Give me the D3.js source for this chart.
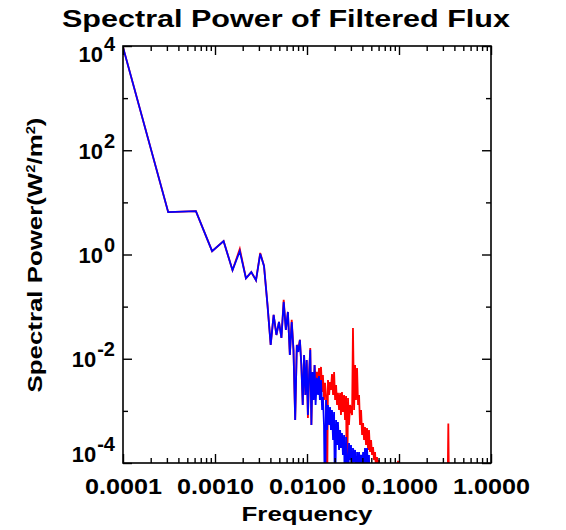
<!DOCTYPE html>
<html>
<head>
<meta charset="utf-8">
<script src="https://cdn.jsdelivr.net/npm/d3@7"></script>
<style>
  body { margin: 0; background: #fff; }
  text { font-family: "Liberation Sans", Arial, Helvetica, sans-serif; font-weight: bold; }
</style>
</head>
<body>
<svg id="chart" width="566" height="530"></svg>
<script>
// frequencies (shared by both spectra)
const freq = [
  0.0001, 0.00031, 0.00062, 0.00093, 0.00124, 0.00155, 0.00186, 0.00217, 0.00248, 0.00279,
  0.0031, 0.00341, 0.00372, 0.00403, 0.00434, 0.00465, 0.00496, 0.00527, 0.00558, 0.00589,
  0.0062, 0.00651, 0.00682, 0.00713, 0.00744, 0.00775, 0.00806, 0.00837, 0.00868, 0.00899,
  0.0093, 0.00961, 0.00992, 0.01023, 0.01054, 0.01085, 0.01116, 0.01147, 0.01178, 0.01209, 0.0124,
  0.0128, 0.0132, 0.0135, 0.0138, 0.0142, 0.0146, 0.0149, 0.0153, 0.0157, 0.0161,
  0.0165, 0.0169, 0.0174, 0.0178, 0.0182, 0.0187, 0.0192, 0.0197, 0.0202, 0.0207,
  0.0212, 0.0217, 0.0223, 0.0229, 0.0234, 0.0240, 0.0246, 0.0253, 0.0259, 0.0266,
  0.0272, 0.0279, 0.0286, 0.0294, 0.0301, 0.0309, 0.0316, 0.0325, 0.0333, 0.0341,
  0.0350, 0.0359, 0.0368, 0.0377, 0.0387, 0.0397, 0.0407, 0.0417, 0.0427, 0.0438,
  0.0449, 0.0461, 0.0472, 0.0484, 0.0497, 0.0509, 0.0522, 0.0535, 0.0549, 0.0563,
  0.0577, 0.0592, 0.0607, 0.0622,
  0.0800, 0.0960, 0.0976, 0.0990, 0.3350, 0.3436, 0.3520, 0.5000
];

// filtered spectrum (blue)
const bluePower = [
  9500, 6.5, 6.8, 1.16, 1.8, 0.50, 1.16, 0.35, 0.46, 0.32,
  1.03, 0.604, 0.108, 0.0184, 0.0693, 0.0286, 0.0508, 0.0251, 0.123, 0.0357,
  0.0791, 0.0118, 0.0508, 0.0148, 0.000668, 0.0184, 0.0135, 0.0230, 0.0076, 0.0013,
  0.0118, 0.00202, 0.00948, 0.000834, 0.00489, 0.0148, 0.000536, 0.00558, 0.00162, 0.0076, 0.0013,
  4.29e-3, 2.02e-3, 4.68e-3, 1.62e-3, 3.92e-3, 1.04e-3, 1.85e-3, 5.36e-4, 1e-5, 1.62e-3,
  4.30e-4, 1.30e-3, 5.36e-4, 1.19e-3, 4.30e-4, 1.04e-3, 2.76e-4, 9.53e-4, 1e-5, 6.68e-4,
  2.21e-4, 6.12e-4, 1.78e-4, 4.30e-4, 1.94e-4, 3.77e-4, 1.43e-4, 3.44e-4, 1e-5, 3.15e-4,
  1.43e-4, 1e-5, 2.42e-4, 1.14e-4, 2.21e-4, 1e-5, 1.94e-4, 1.05e-4, 1.78e-4, 1e-5,
  1.63e-4, 7.3e-5, 1.63e-4, 8e-5, 1.43e-4, 7.3e-5, 1.63e-4, 6.7e-5, 1.94e-4, 9e-5,
  1.94e-4, 7.3e-5, 1.43e-4, 1e-5, 1e-5, 1e-5, 1e-5, 1e-5, 1e-5, 1e-5,
  1e-5, 1e-5, 1e-5, 1e-5,
  1e-5, 1e-5, 1e-5, 1e-5, 1e-5, 1e-5, 1e-5, 1e-5
];

// unfiltered spectrum (red)
const redPower = [
  9500, 6.5, 6.8, 1.16, 1.8, 0.50, 1.28, 0.35, 0.46, 0.32,
  1.07, 0.604, 0.108, 0.0184, 0.0693, 0.0286, 0.0508, 0.0251, 0.135, 0.0357,
  0.0791, 0.0118, 0.0556, 0.0148, 0.000668, 0.0184, 0.0161, 0.0230, 0.0076, 0.0013,
  0.0118, 0.00202, 0.00948, 0.000731, 0.00489, 0.0161, 0.000536, 0.00558, 0.00162, 0.0076, 0.00392,
  5.58e-3, 3.14e-3, 6.65e-3, 3.92e-3, 6.97e-3, 2.31e-3, 4.89e-3, 1.62e-3, 3.44e-3, 2.02e-3,
  1e-5, 3.92e-3, 2.02e-3, 3.59e-3, 2.52e-3, 5.11e-3, 2.02e-3, 5.58e-3, 1.62e-3, 3.14e-3,
  1.30e-3, 2.21e-3, 1.04e-3, 2.21e-3, 8.34e-4, 2.31e-3, 9.53e-4, 2.02e-3, 6.68e-4, 1.93e-3,
  1e-5, 1.77e-3, 5.36e-4, 1.30e-3, 1.04e-3, 8.34e-4, 3.90e-2, 1.04e-3, 7.60e-3, 1.62e-3,
  6.65e-3, 1.30e-3, 2.02e-3, 5.36e-4, 1.04e-3, 3.44e-4, 5.86e-4, 2.76e-4, 4.91e-4, 2.21e-4,
  4.70e-4, 1.78e-4, 4.30e-4, 1.63e-4, 2.76e-4, 1.43e-4, 2.03e-4, 1.14e-4, 1.63e-4, 7.3e-5,
  1.30e-4, 7.3e-5, 1.14e-4, 1e-5,
  1e-5, 1e-5, 1.1e-4, 1e-5, 1e-5, 5.7e-4, 1e-5, 1e-5
];

const xTickValues = [1e-4, 1e-3, 1e-2, 1e-1, 1];
const xTickLabels = ['0.0001', '0.0010', '0.0100', '0.1000', '1.0000'];
const yTickValues = [1e-4, 1e-2, 1, 1e2, 1e4];
const yTickExps = ['-4', '-2', '0', '2', '4'];
const yMinorValues = [1e-3, 1e-1, 1e1, 1e3];

const W = 566, H = 530;
const margin = {top: 46, right: 75, bottom: 67, left: 123};
const width = W - margin.left - margin.right;
const height = H - margin.top - margin.bottom;

const svg = d3.select('#chart');
const g = svg.append('g').attr('transform', `translate(${margin.left},${margin.top})`);

const x = d3.scaleLog().domain([1e-4, 1]).range([0, width]);
const y = d3.scaleLog().domain([1e-4, 1e4]).range([height, 0]);

// minor x ticks 2..9 in each decade
const xMinorValues = [];
xTickValues.slice(0, -1).forEach(d => { for (let m = 2; m <= 9; m++) xMinorValues.push(m * d); });

g.append('clipPath').attr('id', 'clip')
  .append('rect').attr('width', width).attr('height', height);

const rows = freq.map((f, i) => ({f: f, b: bluePower[i], r: redPower[i]}));

const plot = g.append('g').attr('clip-path', 'url(#clip)');
const lineR = d3.line().x(d => x(d.f)).y(d => y(d.r));
const lineB = d3.line().x(d => x(d.f)).y(d => y(d.b));

plot.append('path').attr('d', lineR(rows))
  .attr('fill', 'none').attr('stroke', '#ff0000').attr('stroke-width', 1.8).attr('stroke-linejoin', 'miter');
plot.append('path').attr('d', lineB(rows))
  .attr('fill', 'none').attr('stroke', '#0000ff').attr('stroke-width', 1.8).attr('stroke-linejoin', 'miter');

// ticks on all four sides, pointing in
function ticks(axis, values, size, tr) {
  g.append('g').attr('transform', tr)
    .call(axis.tickValues(values).tickSize(-size).tickFormat(''))
    .call(s => s.select('.domain').remove())
    .call(s => s.selectAll('line').attr('stroke', '#000').attr('stroke-width', 1.4));
}
ticks(d3.axisBottom(x), xTickValues, 9, `translate(0,${height})`);
ticks(d3.axisBottom(x), xMinorValues, 5, `translate(0,${height})`);
ticks(d3.axisTop(x), xTickValues, 9, 'translate(0,0)');
ticks(d3.axisTop(x), xMinorValues, 5, 'translate(0,0)');
ticks(d3.axisLeft(y), yTickValues, 9, 'translate(0,0)');
ticks(d3.axisLeft(y), yMinorValues, 5, 'translate(0,0)');
ticks(d3.axisRight(y), yTickValues, 9, `translate(${width},0)`);
ticks(d3.axisRight(y), yMinorValues, 5, `translate(${width},0)`);

g.append('rect').attr('width', width).attr('height', height)
  .attr('fill', 'none').attr('stroke', '#000').attr('stroke-width', 1.6);

// x tick labels
const xl = g.append('g').attr('transform', `translate(0,${height})`)
  .call(d3.axisBottom(x).tickValues(xTickValues).tickSize(0).tickPadding(15)
    .tickFormat((d, i) => xTickLabels[i]))
  .call(s => s.select('.domain').remove());
xl.attr('font-size', null).attr('font-family', null);
xl.selectAll('text').attr('fill', '#000').style('font-size', '22px')
  .attr('textLength', 77).attr('lengthAdjust', 'spacingAndGlyphs');

// y tick labels as 10^n
const yl = g.append('g').selectAll('text').data(yTickValues).join('text')
  .attr('x', -8)
  .attr('y', d => Math.min(Math.max(y(d) + 8.5, 15.7), height - 1.3))
  .attr('text-anchor', 'end').style('font-size', '22px').attr('fill', '#000');
yl.append('tspan').text('10');
yl.append('tspan').attr('dy', -11).style('font-size', '20px').attr('dx', 1)
  .text((d, i) => yTickExps[i]);

// titles
svg.append('text').attr('x', 286).attr('y', 27).attr('text-anchor', 'middle')
  .style('font-size', '23px').attr('textLength', 448).attr('lengthAdjust', 'spacingAndGlyphs')
  .text('Spectral Power of Filtered Flux');

svg.append('text').attr('x', margin.left + width / 2).attr('y', 521).attr('text-anchor', 'middle')
  .style('font-size', '20px').attr('textLength', 131).attr('lengthAdjust', 'spacingAndGlyphs')
  .text('Frequency');

const yt = svg.append('text').attr('transform', 'translate(42,255) rotate(-90)')
  .attr('text-anchor', 'middle').style('font-size', '21px')
  .attr('textLength', 275).attr('lengthAdjust', 'spacingAndGlyphs');
yt.append('tspan').text('Spectral Power(W');
yt.append('tspan').attr('dy', -7).style('font-size', '12px').text('2');
yt.append('tspan').attr('dy', 7).text('/m');
yt.append('tspan').attr('dy', -7).style('font-size', '12px').text('2');
yt.append('tspan').attr('dy', 7).text(')');
</script>
</body>
</html>
